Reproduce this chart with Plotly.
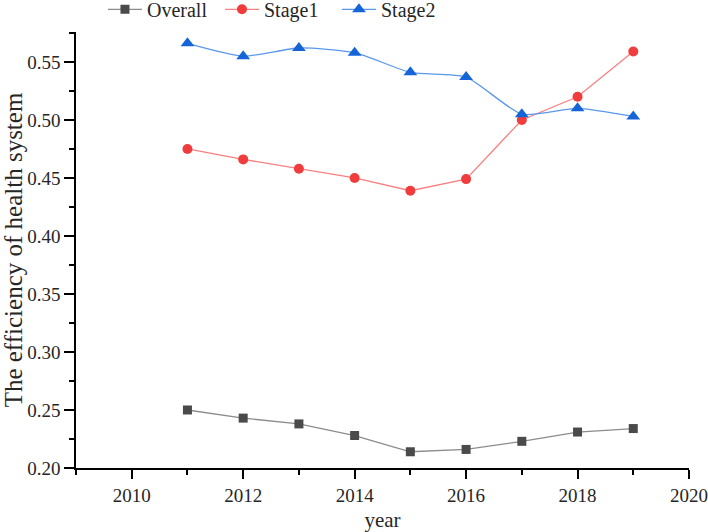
import plotly.graph_objects as go

years = [2011, 2012, 2013, 2014, 2015, 2016, 2017, 2018, 2019]
overall = [0.250, 0.243, 0.238, 0.228, 0.214, 0.216, 0.223, 0.231, 0.234]
stage1 = [0.475, 0.466, 0.458, 0.450, 0.439, 0.449, 0.500, 0.520, 0.559]
stage2 = [0.566, 0.555, 0.562, 0.558, 0.541, 0.537, 0.505, 0.510, 0.503]

FONT = "Liberation Serif"
TXT = "#262626"

fig = go.Figure()
fig.add_trace(go.Scatter(
    x=years, y=overall, name="Overall", mode="lines+markers",
    line=dict(color="#8c8c8c", width=1.3),
    marker=dict(symbol="square", size=9, color="#4a4a4a"),
))
fig.add_trace(go.Scatter(
    x=years, y=stage1, name="Stage1", mode="lines+markers",
    line=dict(color="#f88080", width=1.3),
    marker=dict(symbol="circle", size=10, color="#f03c3c"),
))
fig.add_trace(go.Scatter(
    x=years, y=stage2, name="Stage2", mode="lines+markers",
    line=dict(color="#5a98ec", width=1.3, shape="spline", smoothing=0.6),
    marker=dict(symbol="triangle-up", size=12, color="#1565d8"),
))

fig.update_layout(
    width=708, height=532,
    margin=dict(l=76, r=19, t=32, b=64, autoexpand=False),
    paper_bgcolor="white", plot_bgcolor="white",
    font=dict(family=FONT, color=TXT, size=19),
    showlegend=True,
    legend=dict(orientation="h", x=0.044, xanchor="left", y=1.052, yanchor="middle",
                font=dict(family=FONT, size=20, color=TXT),
                bgcolor="rgba(0,0,0,0)", itemwidth=34, entrywidth=68),
)
fig.update_xaxes(
    range=[2009, 2020], tick0=2010, dtick=2, showgrid=False, zeroline=False,
    showline=True, linecolor="black", linewidth=1.5, automargin=False,
    ticks="outside", ticklen=9, tickwidth=1.5, tickcolor="black",
    tickfont=dict(family=FONT, size=19, color=TXT),
    minor=dict(dtick=1, tick0=2009, ticks="outside", ticklen=5, tickwidth=1.5, tickcolor="black"),
    title=dict(text="year", font=dict(family=FONT, size=21, color=TXT), standoff=8),
)
fig.update_yaxes(
    range=[0.2, 0.5758], tick0=0.2, dtick=0.05, tickformat=".2f", showgrid=False, zeroline=False,
    showline=True, linecolor="black", linewidth=1.5, automargin=False,
    ticks="outside", ticklen=10, tickwidth=1.5, tickcolor="black",
    tickfont=dict(family=FONT, size=19, color=TXT),
    minor=dict(dtick=0.025, tick0=0.2, ticks="outside", ticklen=5, tickwidth=1.5, tickcolor="black"),
    title=dict(text="The efficiency of health system", font=dict(family=FONT, size=25, color=TXT), standoff=3),
)

fig.write_html("out.html", config={"displayModeBar": False},
               post_script="document.body.style.margin='0';document.body.style.overflow='hidden';")
